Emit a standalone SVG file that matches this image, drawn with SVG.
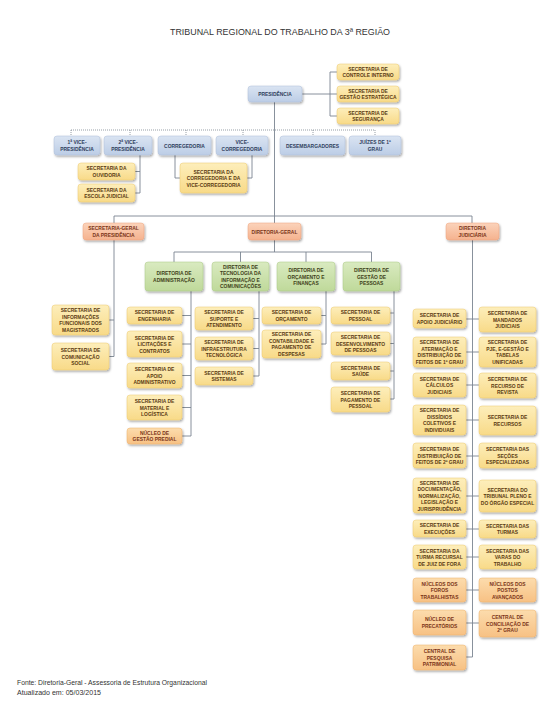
<svg xmlns="http://www.w3.org/2000/svg" width="550" height="721" viewBox="0 0 550 721">
<defs>
<filter id="sh" x="-20%" y="-20%" width="150%" height="170%"><feDropShadow dx="1" dy="1.5" stdDeviation="0.8" flood-color="#000" flood-opacity="0.35"/></filter>
<linearGradient id="gB" x1="0" y1="0" x2="0" y2="1"><stop offset="0" stop-color="#dae4f2"/><stop offset="1" stop-color="#bccde6"/></linearGradient>
<linearGradient id="gY" x1="0" y1="0" x2="0" y2="1"><stop offset="0" stop-color="#fdeebb"/><stop offset="1" stop-color="#f8da88"/></linearGradient>
<linearGradient id="gG" x1="0" y1="0" x2="0" y2="1"><stop offset="0" stop-color="#d9eac0"/><stop offset="1" stop-color="#bfd99a"/></linearGradient>
<linearGradient id="gS" x1="0" y1="0" x2="0" y2="1"><stop offset="0" stop-color="#fbd3bb"/><stop offset="1" stop-color="#f5b28e"/></linearGradient>
<linearGradient id="gO" x1="0" y1="0" x2="0" y2="1"><stop offset="0" stop-color="#fcdcad"/><stop offset="1" stop-color="#f7c184"/></linearGradient>
</defs>
<style>
.bx{filter:url(#sh);stroke-width:0.5}
.blue{fill:url(#gB);stroke:#aebfd8}
.yel{fill:url(#gY);stroke:#ecc86c}
.grn{fill:url(#gG);stroke:#a9c884}
.sal{fill:url(#gS);stroke:#eea27c}
.org{fill:url(#gO);stroke:#eeb06a}
.t{font-family:"Liberation Sans",Arial,sans-serif;font-weight:bold;font-size:5.8px;text-anchor:middle}
.tb{fill:#2f3d5c}
.ty{fill:#5a3a12}
.tg{fill:#3e3f18}
.ts{fill:#7a3418}
.ln{stroke:#7b8591;stroke-width:0.9;fill:none}
.dot{stroke:#7b8591;stroke-width:0.8;fill:none;stroke-dasharray:1 1}
.title{font-family:"Liberation Sans",Arial,sans-serif;font-size:9.5px;fill:#333;text-anchor:middle}
.foot{font-family:"Liberation Sans",Arial,sans-serif;font-size:7px;fill:#333}
</style>
<rect width="550" height="721" fill="#fff"/>
<text class="title" x="280" y="35" textLength="220" lengthAdjust="spacingAndGlyphs">TRIBUNAL REGIONAL DO TRABALHO DA 3ª REGIÃO</text>

<g id="connectors">
<path class="ln" d="M302,94 H337 M330,72 V116 M330,72 H337 M330,116 H337"/>
<path class="ln" d="M274.5,102 V223"/>
<path class="dot" d="M71,130 H375 M71,130 V136 M130,130 V136 M186,130 V136 M243,130 V136 M313,130 V136 M375,130 V136"/>
<path class="ln" d="M140,155 V193 M135,171.5 H140 M135,193 H140"/>
<path class="ln" d="M175,155 V178 H180 M252,155 V178 H247"/>
<path class="ln" d="M114,223 V216 H472 V223"/>
<path class="ln" d="M114,240 V356.5 M109,320 H114 M109,356.5 H114"/>
<path class="ln" d="M274.5,240 V252 M174,262 V252 H371.5 V262 M240.5,252 V262 M306,252 V262"/>
<path class="ln" d="M191,291 V436 M182,315.5 H191 M182,344 H191 M182,375.5 H191 M182,407.5 H191 M182,436 H191"/>
<path class="ln" d="M259,291 V376 M253,318.5 H259 M253,348.5 H259 M253,376 H259"/>
<path class="ln" d="M326,291 V344 M321,315.5 H326 M321,344 H326"/>
<path class="ln" d="M394,291 V399 M390,313 H394 M390,343.5 H394 M390,371 H394 M390,399 H394"/>
<path class="ln" d="M472.5,240 V657 M466,319 H479 M466,352 H479 M466,385 H479 M466,420 H479 M466,456 H479 M466,496 H479 M466,529 H479 M466,557 H479 M466,590 H479 M466,623 H479 M466,657 H472.5"/>
</g>

<g id="n-presidencia"><rect class="bx blue" x="248" y="86" width="54" height="16" rx="3"/><text class="t tb" transform="translate(275,94) scale(0.85,1)"><tspan x="0" y="2.1">PRESIDÊNCIA</tspan></text></g>
<g id="n-controle"><rect class="bx yel" x="337" y="64" width="62" height="16" rx="3"/><text class="t ty" transform="translate(368,72) scale(0.85,1)"><tspan x="0" y="-1.15">SECRETARIA DE</tspan><tspan x="0" y="5.35">CONTROLE INTERNO</tspan></text></g>
<g id="n-gestao-estrategica"><rect class="bx yel" x="337" y="86" width="62" height="16" rx="3"/><text class="t ty" transform="translate(368,94) scale(0.85,1)"><tspan x="0" y="-1.15">SECRETARIA DE</tspan><tspan x="0" y="5.35">GESTÃO ESTRATÉGICA</tspan></text></g>
<g id="n-seguranca"><rect class="bx yel" x="337" y="108" width="62" height="16" rx="3"/><text class="t ty" transform="translate(368,116) scale(0.85,1)"><tspan x="0" y="-1.15">SECRETARIA DE</tspan><tspan x="0" y="5.35">SEGURANÇA</tspan></text></g>

<g id="n-vp1"><rect class="bx blue" x="54" y="136" width="46" height="19" rx="3"/><text class="t tb" transform="translate(77,145.5) scale(0.85,1)"><tspan x="0" y="-1.15">1ª VICE-</tspan><tspan x="0" y="5.35">PRESIDÊNCIA</tspan></text></g>
<g id="n-vp2"><rect class="bx blue" x="104" y="136" width="48" height="19" rx="3"/><text class="t tb" transform="translate(128,145.5) scale(0.85,1)"><tspan x="0" y="-1.15">2ª VICE-</tspan><tspan x="0" y="5.35">PRESIDÊNCIA</tspan></text></g>
<g id="n-corregedoria"><rect class="bx blue" x="158" y="136" width="53" height="19" rx="3"/><text class="t tb" transform="translate(184.5,145.5) scale(0.85,1)"><tspan x="0" y="2.1">CORREGEDORIA</tspan></text></g>
<g id="n-vice-corregedoria"><rect class="bx blue" x="216" y="136" width="52" height="19" rx="3"/><text class="t tb" transform="translate(242,145.5) scale(0.85,1)"><tspan x="0" y="-1.15">VICE-</tspan><tspan x="0" y="5.35">CORREGEDORIA</tspan></text></g>
<g id="n-desembargadores"><rect class="bx blue" x="280" y="136" width="65" height="19" rx="3"/><text class="t tb" transform="translate(312.5,145.5) scale(0.85,1)"><tspan x="0" y="2.1">DESEMBARGADORES</tspan></text></g>
<g id="n-juizes"><rect class="bx blue" x="349" y="136" width="52" height="19" rx="3"/><text class="t tb" transform="translate(375,145.5) scale(0.85,1)"><tspan x="0" y="-1.15">JUÍZES DE 1º</tspan><tspan x="0" y="5.35">GRAU</tspan></text></g>
<g id="n-ouvidoria"><rect class="bx yel" x="78" y="163" width="57" height="17" rx="3"/><text class="t ty" transform="translate(106.5,171.5) scale(0.85,1)"><tspan x="0" y="-1.15">SECRETARIA DA</tspan><tspan x="0" y="5.35">OUVIDORIA</tspan></text></g>
<g id="n-escola"><rect class="bx yel" x="78" y="184" width="57" height="18" rx="3"/><text class="t ty" transform="translate(106.5,193) scale(0.85,1)"><tspan x="0" y="-1.15">SECRETARIA DA</tspan><tspan x="0" y="5.35">ESCOLA JUDICIAL</tspan></text></g>
<g id="n-sec-corregedoria"><rect class="bx yel" x="180" y="163" width="67" height="30" rx="3"/><text class="t ty" transform="translate(213.5,178) scale(0.85,1)"><tspan x="0" y="-4.4">SECRETARIA DA</tspan><tspan x="0" y="2.1">CORREGEDORIA E DA</tspan><tspan x="0" y="8.6">VICE-CORREGEDORIA</tspan></text></g>

<g id="n-sec-geral"><rect class="bx sal" x="83" y="223" width="61" height="17" rx="3"/><text class="t ts" transform="translate(113.5,231.5) scale(0.85,1)"><tspan x="0" y="-1.15">SECRETARIA-GERAL</tspan><tspan x="0" y="5.35">DA PRESIDÊNCIA</tspan></text></g>
<g id="n-diretoria-geral"><rect class="bx sal" x="248" y="223" width="53" height="17" rx="3"/><text class="t ts" transform="translate(274.5,231.5) scale(0.85,1)"><tspan x="0" y="2.1">DIRETORIA-GERAL</tspan></text></g>
<g id="n-diretoria-judiciaria"><rect class="bx sal" x="446" y="223" width="53" height="17" rx="3"/><text class="t ts" transform="translate(472.5,231.5) scale(0.85,1)"><tspan x="0" y="-1.15">DIRETORIA</tspan><tspan x="0" y="5.35">JUDICIÁRIA</tspan></text></g>

<g id="n-info-funcionais"><rect class="bx yel" x="52" y="305" width="57" height="30" rx="3"/><text class="t ty" transform="translate(80.5,320) scale(0.85,1)"><tspan x="0" y="-7.65">SECRETARIA DE</tspan><tspan x="0" y="-1.15">INFORMAÇÕES</tspan><tspan x="0" y="5.35">FUNCIONAIS DOS</tspan><tspan x="0" y="11.85">MAGISTRADOS</tspan></text></g>
<g id="n-comunicacao"><rect class="bx yel" x="52" y="343" width="57" height="27" rx="3"/><text class="t ty" transform="translate(80.5,356.5) scale(0.85,1)"><tspan x="0" y="-4.4">SECRETARIA DE</tspan><tspan x="0" y="2.1">COMUNICAÇÃO</tspan><tspan x="0" y="8.6">SOCIAL</tspan></text></g>

<g id="n-dir-administracao"><rect class="bx grn" x="145" y="262" width="58" height="29" rx="3"/><text class="t tg" transform="translate(174,276.5) scale(0.85,1)"><tspan x="0" y="-1.15">DIRETORIA DE</tspan><tspan x="0" y="5.35">ADMINISTRAÇÃO</tspan></text></g>
<g id="n-dir-tecnologia"><rect class="bx grn" x="212" y="262" width="57" height="29" rx="3"/><text class="t tg" transform="translate(240.5,276.5) scale(0.85,1)"><tspan x="0" y="-7.65">DIRETORIA DE</tspan><tspan x="0" y="-1.15">TECNOLOGIA DA</tspan><tspan x="0" y="5.35">INFORMAÇÃO E</tspan><tspan x="0" y="11.85">COMUNICAÇÕES</tspan></text></g>
<g id="n-dir-orcamento"><rect class="bx grn" x="277" y="262" width="58" height="29" rx="3"/><text class="t tg" transform="translate(306,276.5) scale(0.85,1)"><tspan x="0" y="-4.4">DIRETORIA DE</tspan><tspan x="0" y="2.1">ORÇAMENTO E</tspan><tspan x="0" y="8.6">FINANÇAS</tspan></text></g>
<g id="n-dir-gestao-pessoas"><rect class="bx grn" x="343" y="262" width="57" height="29" rx="3"/><text class="t tg" transform="translate(371.5,276.5) scale(0.85,1)"><tspan x="0" y="-4.4">DIRETORIA DE</tspan><tspan x="0" y="2.1">GESTÃO DE</tspan><tspan x="0" y="8.6">PESSOAS</tspan></text></g>

<g id="n-engenharia"><rect class="bx yel" x="127" y="307" width="55" height="17" rx="3"/><text class="t ty" transform="translate(154.5,315.5) scale(0.85,1)"><tspan x="0" y="-1.15">SECRETARIA DE</tspan><tspan x="0" y="5.35">ENGENHARIA</tspan></text></g>
<g id="n-licitacoes"><rect class="bx yel" x="127" y="331" width="55" height="26" rx="3"/><text class="t ty" transform="translate(154.5,344) scale(0.85,1)"><tspan x="0" y="-4.4">SECRETARIA DE</tspan><tspan x="0" y="2.1">LICITAÇÕES E</tspan><tspan x="0" y="8.6">CONTRATOS</tspan></text></g>
<g id="n-apoio-adm"><rect class="bx yel" x="127" y="363" width="55" height="25" rx="3"/><text class="t ty" transform="translate(154.5,375.5) scale(0.85,1)"><tspan x="0" y="-4.4">SECRETARIA DE</tspan><tspan x="0" y="2.1">APOIO</tspan><tspan x="0" y="8.6">ADMINISTRATIVO</tspan></text></g>
<g id="n-material"><rect class="bx yel" x="127" y="395" width="55" height="25" rx="3"/><text class="t ty" transform="translate(154.5,407.5) scale(0.85,1)"><tspan x="0" y="-4.4">SECRETARIA DE</tspan><tspan x="0" y="2.1">MATERIAL E</tspan><tspan x="0" y="8.6">LOGÍSTICA</tspan></text></g>
<g id="n-gestao-predial"><rect class="bx org" x="127" y="428" width="55" height="16" rx="3"/><text class="t ts" transform="translate(154.5,436) scale(0.85,1)"><tspan x="0" y="-1.15">NÚCLEO DE</tspan><tspan x="0" y="5.35">GESTÃO PREDIAL</tspan></text></g>

<g id="n-suporte"><rect class="bx yel" x="195" y="307" width="58" height="23" rx="3"/><text class="t ty" transform="translate(224,318.5) scale(0.85,1)"><tspan x="0" y="-4.4">SECRETARIA DE</tspan><tspan x="0" y="2.1">SUPORTE E</tspan><tspan x="0" y="8.6">ATENDIMENTO</tspan></text></g>
<g id="n-infraestrutura"><rect class="bx yel" x="195" y="337" width="58" height="23" rx="3"/><text class="t ty" transform="translate(224,348.5) scale(0.85,1)"><tspan x="0" y="-4.4">SECRETARIA DE</tspan><tspan x="0" y="2.1">INFRAESTRUTURA</tspan><tspan x="0" y="8.6">TECNOLÓGICA</tspan></text></g>
<g id="n-sistemas"><rect class="bx yel" x="195" y="367" width="58" height="18" rx="3"/><text class="t ty" transform="translate(224,376) scale(0.85,1)"><tspan x="0" y="-1.15">SECRETARIA DE</tspan><tspan x="0" y="5.35">SISTEMAS</tspan></text></g>

<g id="n-orcamento"><rect class="bx yel" x="262" y="307" width="59" height="17" rx="3"/><text class="t ty" transform="translate(291.5,315.5) scale(0.85,1)"><tspan x="0" y="-1.15">SECRETARIA DE</tspan><tspan x="0" y="5.35">ORÇAMENTO</tspan></text></g>
<g id="n-contabilidade"><rect class="bx yel" x="262" y="330" width="59" height="28" rx="3"/><text class="t ty" transform="translate(291.5,344) scale(0.85,1)"><tspan x="0" y="-7.65">SECRETARIA DE</tspan><tspan x="0" y="-1.15">CONTABILIDADE E</tspan><tspan x="0" y="5.35">PAGAMENTO DE</tspan><tspan x="0" y="11.85">DESPESAS</tspan></text></g>

<g id="n-pessoal"><rect class="bx yel" x="331" y="307" width="59" height="17" rx="3"/><text class="t ty" transform="translate(360.5,315.5) scale(0.85,1)"><tspan x="0" y="-1.15">SECRETARIA DE</tspan><tspan x="0" y="5.35">PESSOAL</tspan></text></g>
<g id="n-desenvolvimento"><rect class="bx yel" x="331" y="332" width="59" height="23" rx="3"/><text class="t ty" transform="translate(360.5,343.5) scale(0.85,1)"><tspan x="0" y="-4.4">SECRETARIA DE</tspan><tspan x="0" y="2.1">DESENVOLVIMENTO</tspan><tspan x="0" y="8.6">DE PESSOAS</tspan></text></g>
<g id="n-saude"><rect class="bx yel" x="331" y="362" width="59" height="18" rx="3"/><text class="t ty" transform="translate(360.5,371) scale(0.85,1)"><tspan x="0" y="-1.15">SECRETARIA DE</tspan><tspan x="0" y="5.35">SAÚDE</tspan></text></g>
<g id="n-pagamento-pessoal"><rect class="bx yel" x="331" y="387" width="59" height="25" rx="3"/><text class="t ty" transform="translate(360.5,399.5) scale(0.85,1)"><tspan x="0" y="-4.4">SECRETARIA DE</tspan><tspan x="0" y="2.1">PAGAMENTO DE</tspan><tspan x="0" y="8.6">PESSOAL</tspan></text></g>

<g id="n-apoio-judiciario"><rect class="bx yel" x="413" y="309" width="53" height="19" rx="3"/><text class="t ty" transform="translate(439.5,318.5) scale(0.85,1)"><tspan x="0" y="-1.15">SECRETARIA DE</tspan><tspan x="0" y="5.35">APOIO JUDICIÁRIO</tspan></text></g>
<g id="n-mandados"><rect class="bx yel" x="479" y="307" width="57" height="25" rx="3"/><text class="t ty" transform="translate(507.5,319.5) scale(0.85,1)"><tspan x="0" y="-4.4">SECRETARIA DE</tspan><tspan x="0" y="2.1">MANDADOS</tspan><tspan x="0" y="8.6">JUDICIAIS</tspan></text></g>
<g id="n-atermacao"><rect class="bx yel" x="413" y="337" width="53" height="30" rx="3"/><text class="t ty" transform="translate(439.5,352) scale(0.85,1)"><tspan x="0" y="-7.65">SECRETARIA DE</tspan><tspan x="0" y="-1.15">ATERMAÇÃO E</tspan><tspan x="0" y="5.35">DISTRIBUIÇÃO DE</tspan><tspan x="0" y="11.85">FEITOS DE 1º GRAU</tspan></text></g>
<g id="n-pje"><rect class="bx yel" x="479" y="337" width="57" height="30" rx="3"/><text class="t ty" transform="translate(507.5,352) scale(0.85,1)"><tspan x="0" y="-7.65">SECRETARIA DE</tspan><tspan x="0" y="-1.15">PJE, E-GESTÃO E</tspan><tspan x="0" y="5.35">TABELAS</tspan><tspan x="0" y="11.85">UNIFICADAS</tspan></text></g>
<g id="n-calculos"><rect class="bx yel" x="413" y="373" width="53" height="24" rx="3"/><text class="t ty" transform="translate(439.5,385) scale(0.85,1)"><tspan x="0" y="-4.4">SECRETARIA DE</tspan><tspan x="0" y="2.1">CÁLCULOS</tspan><tspan x="0" y="8.6">JUDICIAIS</tspan></text></g>
<g id="n-recurso-revista"><rect class="bx yel" x="479" y="373" width="57" height="25" rx="3"/><text class="t ty" transform="translate(507.5,385.5) scale(0.85,1)"><tspan x="0" y="-4.4">SECRETARIA DE</tspan><tspan x="0" y="2.1">RECURSO DE</tspan><tspan x="0" y="8.6">REVISTA</tspan></text></g>
<g id="n-dissidios"><rect class="bx yel" x="413" y="405" width="53" height="30" rx="3"/><text class="t ty" transform="translate(439.5,420) scale(0.85,1)"><tspan x="0" y="-7.65">SECRETARIA DE</tspan><tspan x="0" y="-1.15">DISSÍDIOS</tspan><tspan x="0" y="5.35">COLETIVOS E</tspan><tspan x="0" y="11.85">INDIVIDUAIS</tspan></text></g>
<g id="n-recursos"><rect class="bx yel" x="479" y="406" width="57" height="29" rx="3"/><text class="t ty" transform="translate(507.5,420.5) scale(0.85,1)"><tspan x="0" y="-1.15">SECRETARIA DE</tspan><tspan x="0" y="5.35">RECURSOS</tspan></text></g>
<g id="n-distribuicao-2grau"><rect class="bx yel" x="413" y="443" width="53" height="25" rx="3"/><text class="t ty" transform="translate(439.5,455.5) scale(0.85,1)"><tspan x="0" y="-4.4">SECRETARIA DE</tspan><tspan x="0" y="2.1">DISTRIBUIÇÃO DE</tspan><tspan x="0" y="8.6">FEITOS DE 2º GRAU</tspan></text></g>
<g id="n-secoes"><rect class="bx yel" x="479" y="443" width="57" height="25" rx="3"/><text class="t ty" transform="translate(507.5,455.5) scale(0.85,1)"><tspan x="0" y="-4.4">SECRETARIA DAS</tspan><tspan x="0" y="2.1">SEÇÕES</tspan><tspan x="0" y="8.6">ESPECIALIZADAS</tspan></text></g>
<g id="n-documentacao"><rect class="bx yel" x="413" y="478" width="53" height="35" rx="3"/><text class="t ty" transform="translate(439.5,495.5) scale(0.85,1)"><tspan x="0" y="-10.9">SECRETARIA DE</tspan><tspan x="0" y="-4.4">DOCUMENTAÇÃO,</tspan><tspan x="0" y="2.1">NORMALIZAÇÃO,</tspan><tspan x="0" y="8.6">LEGISLAÇÃO E</tspan><tspan x="0" y="15.1">JURISPRUDÊNCIA</tspan></text></g>
<g id="n-pleno"><rect class="bx yel" x="479" y="480" width="57" height="32" rx="3"/><text class="t ty" transform="translate(507.5,496) scale(0.85,1)"><tspan x="0" y="-4.4">SECRETARIA DO</tspan><tspan x="0" y="2.1">TRIBUNAL PLENO E</tspan><tspan x="0" y="8.6">DO ÓRGÃO ESPECIAL</tspan></text></g>
<g id="n-execucoes"><rect class="bx yel" x="413" y="520" width="53" height="17" rx="3"/><text class="t ty" transform="translate(439.5,528.5) scale(0.85,1)"><tspan x="0" y="-1.15">SECRETARIA DE</tspan><tspan x="0" y="5.35">EXECUÇÕES</tspan></text></g>
<g id="n-turmas"><rect class="bx yel" x="479" y="520" width="57" height="18" rx="3"/><text class="t ty" transform="translate(507.5,529) scale(0.85,1)"><tspan x="0" y="-1.15">SECRETARIA DAS</tspan><tspan x="0" y="5.35">TURMAS</tspan></text></g>
<g id="n-turma-recursal"><rect class="bx yel" x="413" y="545" width="53" height="24" rx="3"/><text class="t ty" transform="translate(439.5,557) scale(0.85,1)"><tspan x="0" y="-4.4">SECRETARIA DA</tspan><tspan x="0" y="2.1">TURMA RECURSAL</tspan><tspan x="0" y="8.6">DE JUIZ DE FORA</tspan></text></g>
<g id="n-varas"><rect class="bx yel" x="479" y="545" width="57" height="24" rx="3"/><text class="t ty" transform="translate(507.5,557) scale(0.85,1)"><tspan x="0" y="-4.4">SECRETARIA DAS</tspan><tspan x="0" y="2.1">VARAS DO</tspan><tspan x="0" y="8.6">TRABALHO</tspan></text></g>
<g id="n-foros"><rect class="bx org" x="413" y="578" width="53" height="24" rx="3"/><text class="t ts" transform="translate(439.5,590) scale(0.85,1)"><tspan x="0" y="-4.4">NÚCLEOS DOS</tspan><tspan x="0" y="2.1">FOROS</tspan><tspan x="0" y="8.6">TRABALHISTAS</tspan></text></g>
<g id="n-postos"><rect class="bx org" x="479" y="578" width="57" height="24" rx="3"/><text class="t ts" transform="translate(507.5,590) scale(0.85,1)"><tspan x="0" y="-4.4">NÚCLEOS DOS</tspan><tspan x="0" y="2.1">POSTOS</tspan><tspan x="0" y="8.6">AVANÇADOS</tspan></text></g>
<g id="n-precatorios"><rect class="bx org" x="413" y="610" width="53" height="25" rx="3"/><text class="t ts" transform="translate(439.5,622.5) scale(0.85,1)"><tspan x="0" y="-1.15">NÚCLEO DE</tspan><tspan x="0" y="5.35">PRECATÓRIOS</tspan></text></g>
<g id="n-conciliacao"><rect class="bx org" x="479" y="610" width="57" height="27" rx="3"/><text class="t ts" transform="translate(507.5,623.5) scale(0.85,1)"><tspan x="0" y="-4.4">CENTRAL DE</tspan><tspan x="0" y="2.1">CONCILIAÇÃO DE</tspan><tspan x="0" y="8.6">2º GRAU</tspan></text></g>
<g id="n-pesquisa"><rect class="bx org" x="413" y="645" width="53" height="25" rx="3"/><text class="t ts" transform="translate(439.5,657.5) scale(0.85,1)"><tspan x="0" y="-4.4">CENTRAL DE</tspan><tspan x="0" y="2.1">PESQUISA</tspan><tspan x="0" y="8.6">PATRIMONIAL</tspan></text></g>

<text class="foot" x="17" y="685" textLength="190" lengthAdjust="spacingAndGlyphs">Fonte: Diretoria-Geral - Assessoria de Estrutura Organizacional</text>
<text class="foot" x="17" y="695" textLength="84" lengthAdjust="spacingAndGlyphs">Atualizado em: 05/03/2015</text>
</svg>
